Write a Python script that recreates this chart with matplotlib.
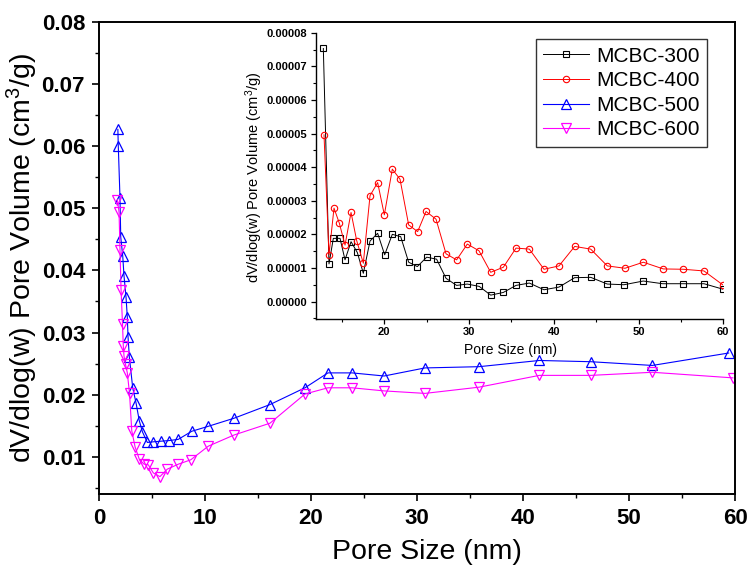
import matplotlib
matplotlib.use("Agg")
import matplotlib.pyplot as plt
from matplotlib.ticker import MultipleLocator, FormatStrFormatter

plt.rcParams['font.family'] = ['Liberation Sans', 'DejaVu Sans']
plt.rcParams['mathtext.fontset'] = 'custom'
plt.rcParams['mathtext.rm'] = 'Liberation Sans'
plt.rcParams['mathtext.it'] = 'Liberation Sans:italic'
plt.rcParams['mathtext.bf'] = 'Liberation Sans:bold'

# ---------------- data ----------------
labels = ['MCBC-300', 'MCBC-400', 'MCBC-500', 'MCBC-600']

# MCBC-500 (main plot)
x500 = [1.78, 1.82, 1.98, 2.05, 2.24, 2.36, 2.55, 2.67, 2.74, 2.86, 3.18, 3.49,
        3.80, 4.10, 4.56, 5.12, 5.82, 6.60, 7.48, 8.75, 10.31, 12.74, 16.13,
        19.43, 21.6, 23.87, 26.9, 30.75, 35.85, 41.54, 46.4, 52.2, 59.4]
y500 = [0.0627, 0.0600, 0.0517, 0.0454, 0.0423, 0.0391, 0.0357, 0.0325, 0.0293,
        0.0261, 0.0211, 0.0187, 0.0158, 0.0140, 0.0123, 0.0124, 0.0125, 0.0126,
        0.0128, 0.0141, 0.0149, 0.0162, 0.0184, 0.0211, 0.0235, 0.0235, 0.0230,
        0.0243, 0.0245, 0.0255, 0.0253, 0.0247, 0.0267]

# MCBC-600 (main plot)
x600 = [1.73, 1.89, 1.98, 2.08, 2.22, 2.29, 2.36, 2.50, 2.67, 2.88, 3.09, 3.40,
        3.80, 4.25, 4.65, 5.12, 5.75, 6.44, 7.48, 8.65, 10.31, 12.74, 16.13,
        19.43, 21.6, 23.87, 26.9, 30.75, 35.85, 41.54, 46.4, 52.2, 59.8]
y600 = [0.0514, 0.0494, 0.0433, 0.0369, 0.0313, 0.0279, 0.0262, 0.0249, 0.0235,
        0.0202, 0.0142, 0.0116, 0.0096, 0.0088, 0.0087, 0.0074, 0.0068, 0.0080,
        0.0088, 0.0095, 0.0117, 0.0135, 0.0154, 0.0201, 0.0211, 0.0211, 0.0206,
        0.0202, 0.0212, 0.0231, 0.0231, 0.0236, 0.0227]

# MCBC-300 (inset)
x300 = [12.8, 13.47, 13.98, 14.77, 15.36, 16.07, 16.81, 17.52, 18.31, 19.21,
        20.04, 20.94, 21.93, 22.87, 23.89, 25.0, 26.17, 27.28, 28.53, 29.79,
        31.2, 32.55, 34.04, 35.54, 37.11, 38.84, 40.61, 42.46, 44.35, 46.31,
        48.28, 50.56, 52.84, 55.2, 57.72, 59.92]
y300 = [7.53e-5, 1.12e-5, 1.88e-5, 1.88e-5, 1.24e-5, 1.78e-5, 1.46e-5, 0.84e-5,
        1.80e-5, 2.03e-5, 1.39e-5, 2.00e-5, 1.93e-5, 1.17e-5, 1.04e-5, 1.32e-5,
        1.26e-5, 0.69e-5, 0.48e-5, 0.52e-5, 0.45e-5, 0.19e-5, 0.27e-5, 0.48e-5,
        0.55e-5, 0.35e-5, 0.43e-5, 0.71e-5, 0.72e-5, 0.52e-5, 0.50e-5, 0.61e-5,
        0.53e-5, 0.53e-5, 0.53e-5, 0.37e-5]

# MCBC-400 (inset)
x400 = [12.88, 13.47, 14.06, 14.69, 15.36, 16.07, 16.74, 17.52, 18.31, 19.21,
        20.0, 20.94, 21.85, 22.87, 23.93, 24.92, 26.1, 27.28, 28.53, 29.79,
        31.17, 32.55, 34.04, 35.54, 37.11, 38.84, 40.61, 42.46, 44.35, 46.31,
        48.4, 50.56, 52.92, 55.28, 57.72, 59.92]
y400 = [4.96e-5, 1.39e-5, 2.78e-5, 2.33e-5, 1.68e-5, 2.65e-5, 1.81e-5, 1.14e-5,
        3.15e-5, 3.54e-5, 2.58e-5, 3.94e-5, 3.64e-5, 2.28e-5, 2.08e-5, 2.68e-5,
        2.45e-5, 1.42e-5, 1.24e-5, 1.71e-5, 1.51e-5, 0.87e-5, 1.02e-5, 1.59e-5,
        1.56e-5, 0.96e-5, 1.06e-5, 1.64e-5, 1.56e-5, 1.06e-5, 0.99e-5, 1.17e-5,
        0.97e-5, 0.96e-5, 0.91e-5, 0.50e-5]

# ---------------- figure ----------------
W, H = 747, 569
fig = plt.figure(figsize=(W / 100, H / 100), dpi=100)
fig.patch.set_facecolor('white')

ax = fig.add_axes([99 / W, 1 - 494 / H, (735 - 99) / W, (494 - 22) / H])
l500, = ax.plot(x500, y500, color='#0000FF', lw=0.8, marker='^', ms=7.5,
                mfc='none', mec='#0000FF', mew=0.9, label=labels[2])
l600, = ax.plot(x600, y600, color='#FF00FF', lw=0.8, marker='v', ms=7.5,
                mfc='none', mec='#FF00FF', mew=0.9, label=labels[3])
ax.set_xlim(0, 60)
ax.set_ylim(0.004, 0.08)
ax.xaxis.set_major_locator(MultipleLocator(10))
ax.xaxis.set_minor_locator(MultipleLocator(5))
ax.yaxis.set_minor_locator(MultipleLocator(0.005))
ax.set_yticks([0.01, 0.02, 0.03, 0.04, 0.05, 0.06, 0.07, 0.08])
ax.yaxis.set_major_formatter(FormatStrFormatter('%.2f'))
ax.tick_params(which='major', direction='out', length=5, width=1.2, labelsize=16, pad=5)
ax.tick_params(which='minor', direction='out', length=3, width=1.0)
for t in ax.get_xticklabels() + ax.get_yticklabels():
    t.set_fontweight('bold')
for s in ax.spines.values():
    s.set_linewidth(1.4)
ax.set_xlabel('Pore Size (nm)', fontsize=20.5)
ax.set_ylabel('dV/dlog(w) Pore Volume (cm$^3$/g)', fontsize=20.5)
ax.xaxis.set_label_coords(0.515, -0.095)
ax.yaxis.set_label_coords(-0.093, 0.5)

# inset
ai = fig.add_axes([315.7 / W, 1 - 319 / H, (723.3 - 315.7) / W, (319 - 32.7) / H])
ai.patch.set_alpha(0)
l300, = ai.plot(x300, y300, color='black', lw=0.7, marker='s', ms=4.2,
                mfc='none', mec='black', mew=0.8, label=labels[0])
l400, = ai.plot(x400, y400, color='#FF0000', lw=0.7, marker='o', ms=4.6,
                mfc='none', mec='#FF0000', mew=0.8, label=labels[1])
ai.set_xlim(11.9, 60)
ai.set_ylim(-0.0000052, 0.00008)
ai.xaxis.set_minor_locator(MultipleLocator(5))
ai.yaxis.set_minor_locator(MultipleLocator(0.000005))
ai.set_yticks([0, 1e-5, 2e-5, 3e-5, 4e-5, 5e-5, 6e-5, 7e-5, 8e-5])
ai.set_xticks([20, 30, 40, 50, 60])
ai.yaxis.set_major_formatter(FormatStrFormatter('%.5f'))
ai.spines['top'].set_visible(False)
ai.spines['right'].set_visible(False)
ai.spines['left'].set_linewidth(1.0)
ai.spines['bottom'].set_linewidth(1.0)
ai.tick_params(which='major', direction='out', length=3.5, width=0.9, labelsize=8, pad=2.5)
ai.tick_params(which='minor', direction='out', length=2, width=0.8)
for t in ai.get_xticklabels() + ai.get_yticklabels():
    t.set_fontweight('bold')
ai.set_xlabel('Pore Size (nm)', fontsize=10)
ai.set_ylabel('dV/dlog(w) Pore Volume (cm$^3$/g)', fontsize=10.5)
ai.xaxis.set_label_coords(0.477, -0.085)
ai.yaxis.set_label_coords(-0.125, 0.496)

leg = ai.legend(handles=[l300, l400, l500, l600], loc='upper right',
                bbox_to_anchor=(707.3 / W, 1 - 39.3 / H), bbox_transform=fig.transFigure,
                fontsize=15, frameon=True, fancybox=False, edgecolor='#333333',
                framealpha=1, labelspacing=0.27, handlelength=2.2, handletextpad=0.35,
                borderpad=0.35, borderaxespad=0)
leg.get_frame().set_linewidth(1.0)

fig.savefig('out.png', dpi=100, facecolor='white')
